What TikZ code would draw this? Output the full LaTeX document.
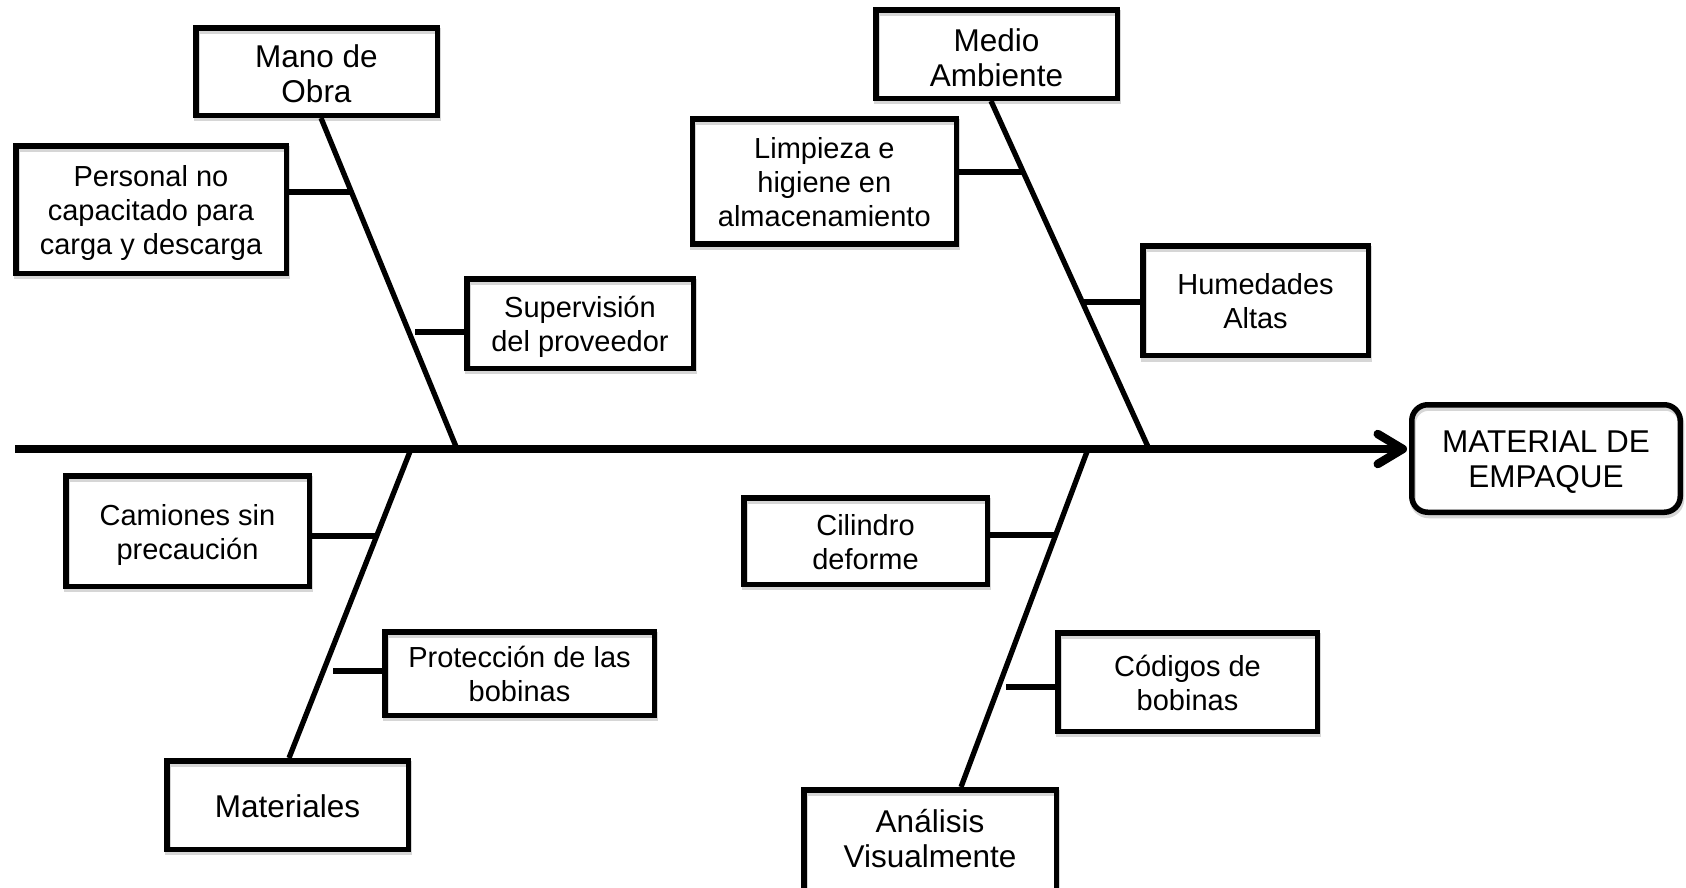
\documentclass[tikz,border=0pt]{standalone}
\usepackage{fontspec}
\setmainfont{Liberation Sans}
\usetikzlibrary{arrows.meta}
\pgfdeclarelayer{shade}
\pgfsetlayers{shade,main}
% ribs of the fishbone: the four main bones and the eight secondary causes
\newcommand\ribs[1]{%
  \draw[rib,#1] ([xshift=4.5pt]mano.south) -- (jA);
  \draw[rib,#1] ([xshift=-5.5pt]medio.south) -- (jB);
  \draw[rib,#1] (jC) -- ([xshift=1.5pt]materiales.north);
  \draw[rib,#1] (jD) -- ([xshift=31pt]analisis.north);
  \draw[rib,#1] (personal.east |- tPersonal) -- (tPersonal);
  \draw[rib,#1] (tSuperv) -- (superv.west |- tSuperv);
  \draw[rib,#1] (limpieza.east |- tLimpieza) -- (tLimpieza);
  \draw[rib,#1] (tHumedades) -- (humedades.west |- tHumedades);
  \draw[rib,#1] (camiones.east |- tCamiones) -- (tCamiones);
  \draw[rib,#1] (tProteccion) -- (proteccion.west |- tProteccion);
  \draw[rib,#1] (cilindro.east |- tCilindro) -- (tCilindro);
  \draw[rib,#1] (tCodigos) -- (codigos.west |- tCodigos);
}
\begin{document}
\begin{tikzpicture}[x=1pt,y=-1pt,
  shadeline/.style={draw=black!16, transform canvas={shift={(1pt,-3pt)}}},
  causebox/.style={draw=black, line width=5.5pt, inner sep=0pt, align=center,
    font=\fontsize{29}{34}\selectfont, text depth=0pt,
    preaction={shadeline, line width=6pt}},
  catbox/.style={causebox, font=\fontsize{31.5}{35}\selectfont},
  % text box height measured up from the last baseline, so the lines sit centred
  two/.style={text height=56.2pt},
  three/.style={text height=90.2pt},
  bigone/.style={text height=24pt},
  bigtwo/.style={text height=61.6pt},
  rib/.style={line width=5.3pt},
  spine/.style={line width=8.5pt, -{Straight Barb[length=25pt,width=30pt,round]}, shorten >=2pt}
]
\clip (0,0) rectangle (1686,887);
\fill[white] (0,0) rectangle (1686,887);

% effect
\node[catbox, bigtwo, text depth=4pt, rounded corners=16pt, minimum width=268.5pt, minimum height=107.5pt]
  (efecto) at (1546,458.5) {MATERIAL DE\\EMPAQUE};

% categories
\node[catbox, bigtwo, minimum width=241.5pt, minimum height=87.5pt] (mano) at (316.5,71.5) {Mano de\\Obra};
\node[catbox, bigtwo, text height=65.6pt, minimum width=241.5pt, minimum height=88.5pt] (medio) at (996.5,54) {Medio\\Ambiente};
\node[catbox, bigone, minimum width=241.5pt, minimum height=88.5pt] (materiales) at (287.5,805) {Materiales};
\node[catbox, bigtwo, text depth=16pt, minimum width=252.5pt, minimum height=110pt] (analisis) at (930,844.75) {Análisis\\Visualmente};

% causes
\node[causebox, three, minimum width=270.5pt, minimum height=127.5pt] (personal) at (151,209.5)
  {Personal no\\capacitado para\\carga y descarga};
\node[causebox, two, minimum width=226.5pt, minimum height=89.5pt] (superv) at (580,323.5)
  {Supervisión\\del proveedor};
\node[causebox, three, minimum width=264pt, minimum height=125pt] (limpieza) at (824.3,181.3)
  {Limpieza e\\higiene en\\almacenamiento};
\node[causebox, two, minimum width=225.5pt, minimum height=109.5pt] (humedades) at (1255.5,300.8)
  {Humedades\\Altas};
\node[causebox, two, minimum width=243.5pt, minimum height=110.5pt] (camiones) at (187.5,531)
  {Camiones sin\\precaución};
\node[causebox, two, minimum width=269.5pt, minimum height=83.5pt] (proteccion) at (519.5,673.5)
  {Protección de las\\bobinas};
\node[causebox, two, minimum width=243.5pt, minimum height=86.5pt] (cilindro) at (865.5,541)
  {Cilindro\\deforme};
\node[causebox, two, minimum width=259.5pt, minimum height=98.5pt] (codigos) at (1187.5,682)
  {Códigos de\\bobinas};

% tail of the spine and junctions of the main bones with it
\coordinate (cola) at (15,449);
\coordinate (jA) at (457,449);
\coordinate (jB) at (1149,449);
\coordinate (jC) at (411,449);
\coordinate (jD) at (1088,449);

% points where the secondary causes meet the bones
\coordinate (tPersonal) at (351,192);
\coordinate (tSuperv) at (415,332);
\coordinate (tLimpieza) at (1022,172);
\coordinate (tHumedades) at (1084,302);
\coordinate (tCamiones) at (375,536);
\coordinate (tProteccion) at (333,671);
\coordinate (tCilindro) at (1055,535);
\coordinate (tCodigos) at (1006,687);

% soft shadows under every line
\begin{pgfonlayer}{shade}
  \draw[shadeline, line width=8.5pt] (cola) -- ([xshift=-6pt]efecto.west |- cola);
  \ribs{shadeline}
\end{pgfonlayer}

% the lines themselves
\ribs{}
\draw[spine] (cola) -- (efecto.west |- cola);
\end{tikzpicture}
\end{document}
